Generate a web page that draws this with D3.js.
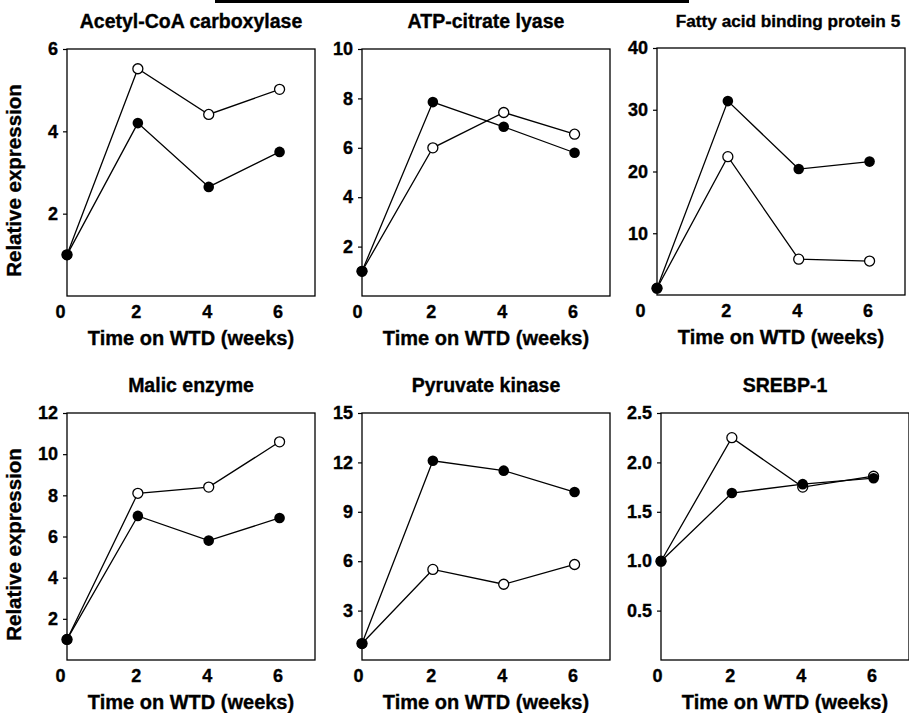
<!DOCTYPE html>
<html>
<head>
<meta charset="utf-8">
<script src="https://cdn.jsdelivr.net/npm/d3@7"></script>
<style>
  body { margin: 0; background: #fff; }
  svg { display: block; }
  text { font-family: "Liberation Sans", Arial, sans-serif; font-weight: bold; fill: #000; stroke: #000; stroke-width: 0.35px; }
</style>
</head>
<body>
<div id="chart"></div>
<script>
// Données
const weeks = [0, 2, 4, 6];
const titles = ["Acetyl-CoA carboxylase", "ATP-citrate lyase", "Fatty acid binding protein 5",
                "Malic enzyme", "Pyruvate kinase", "SREBP-1"];
const filledValues = [
  [1, 4.2, 2.65, 3.5],
  [1, 7.85, 6.85, 5.8],
  [1.1, 31.4, 20.4, 21.6],
  [1, 7.0, 5.8, 6.9],
  [1, 12.1, 11.5, 10.2],
  [1, 1.69, 1.78, 1.84]
];
const openValues = [
  [1, 5.52, 4.41, 5.02],
  [1, 6.0, 7.43, 6.55],
  [1.1, 22.4, 5.8, 5.5],
  [1, 8.1, 8.4, 10.6],
  [1, 5.5, 4.6, 5.8],
  [1, 2.25, 1.75, 1.86]
];
const yMax = [6, 10, 40, 12, 15, 2.5];
const yTicks = [
  [2, 4, 6],
  [2, 4, 6, 8, 10],
  [10, 20, 30, 40],
  [2, 4, 6, 8, 10, 12],
  [3, 6, 9, 12, 15],
  [0.5, 1.0, 1.5, 2.0, 2.5]
];
const xTicks = [0, 2, 4, 6];
const yLabel = "Relative expression";
const xLabel = "Time on WTD (weeks)";

// Position des panneaux
const layout = [
  { left: 67,  top: 49,  zeroShift: -7 },
  { left: 362, top: 49,  zeroShift: -5 },
  { left: 657, top: 48,  zeroShift: -17 },
  { left: 67,  top: 413, zeroShift: -7 },
  { left: 362, top: 413, zeroShift: -4 },
  { left: 661, top: 413, zeroShift: -4 }
];
const pw = 248, ph = 247;

const svg = d3.select("#chart").append("svg")
  .attr("width", 909)
  .attr("height", 713);

// barre noire en haut de l'image
svg.append("rect")
  .attr("x", 215).attr("y", 0)
  .attr("width", 474).attr("height", 3)
  .attr("fill", "#000");

titles.forEach((title, i) => {
  const pos = layout[i];
  const g = svg.append("g").attr("transform", "translate(" + pos.left + "," + pos.top + ")");

  const x = d3.scaleLinear().domain([0, 7]).range([0, pw]);
  const y = d3.scaleLinear().domain([0, yMax[i]]).range([ph, 0]);

  // cadre
  g.append("rect")
    .attr("width", pw).attr("height", ph)
    .attr("fill", "none").attr("stroke", "#000").attr("stroke-width", 1.3);

  // axe Y
  const yAxis = d3.axisLeft(y)
    .tickValues(yTicks[i])
    .tickSize(4)
    .tickPadding(5)
    .tickFormat(i === 5 ? d3.format(".1f") : d3.format("d"));
  const ya = g.append("g").call(yAxis);
  ya.select(".domain").remove();
  ya.selectAll("line").attr("stroke-width", 1.2);
  ya.selectAll("text").attr("font-size", 18).attr("font-family", null);

  // axe X
  const xAxis = d3.axisBottom(x).tickValues(xTicks).tickSize(0).tickPadding(9)
    .tickFormat(d3.format("d"));
  const xa = g.append("g").attr("transform", "translate(0," + ph + ")").call(xAxis);
  xa.select(".domain").remove();
  xa.selectAll("text")
    .attr("font-size", 18).attr("font-family", null)
    .attr("dx", d => d === 0 ? pos.zeroShift : -2);

  // titre (le titre long est un peu plus petit pour tenir dans la page)
  g.append("text")
    .attr("x", pw / 2 + (i === 2 ? 7 : 0))
    .attr("y", -21)
    .attr("text-anchor", "middle")
    .attr("font-size", i === 2 ? 17.2 : 19.5)
    .text(title);

  // titre axe X
  g.append("text")
    .attr("x", pw / 2)
    .attr("y", ph + 49)
    .attr("text-anchor", "middle")
    .attr("font-size", 20)
    .text(xLabel);

  // titre axe Y (colonne de gauche)
  if (i % 3 === 0) {
    g.append("text")
      .attr("transform", "translate(" + (-46) + "," + (ph / 2 + 8) + ") rotate(-90)")
      .attr("text-anchor", "middle")
      .attr("font-size", 20.5)
      .text(yLabel);
  }

  const line = d3.line().x((d, k) => x(weeks[k])).y(d => y(d));

  [openValues[i], filledValues[i]].forEach(vals => {
    g.append("path")
      .attr("d", line(vals))
      .attr("fill", "none")
      .attr("stroke", "#000")
      .attr("stroke-width", 1.3);
  });

  g.selectAll(".open")
    .data(openValues[i])
    .enter().append("circle")
    .attr("class", "open")
    .attr("cx", (d, k) => x(weeks[k]))
    .attr("cy", d => y(d))
    .attr("r", 5)
    .attr("fill", "#fff")
    .attr("stroke", "#000")
    .attr("stroke-width", 1.3);

  g.selectAll(".filled")
    .data(filledValues[i])
    .enter().append("circle")
    .attr("class", "filled")
    .attr("cx", (d, k) => x(weeks[k]))
    .attr("cy", d => y(d))
    .attr("r", 5.3)
    .attr("fill", "#000");
});
</script>
</body>
</html>
